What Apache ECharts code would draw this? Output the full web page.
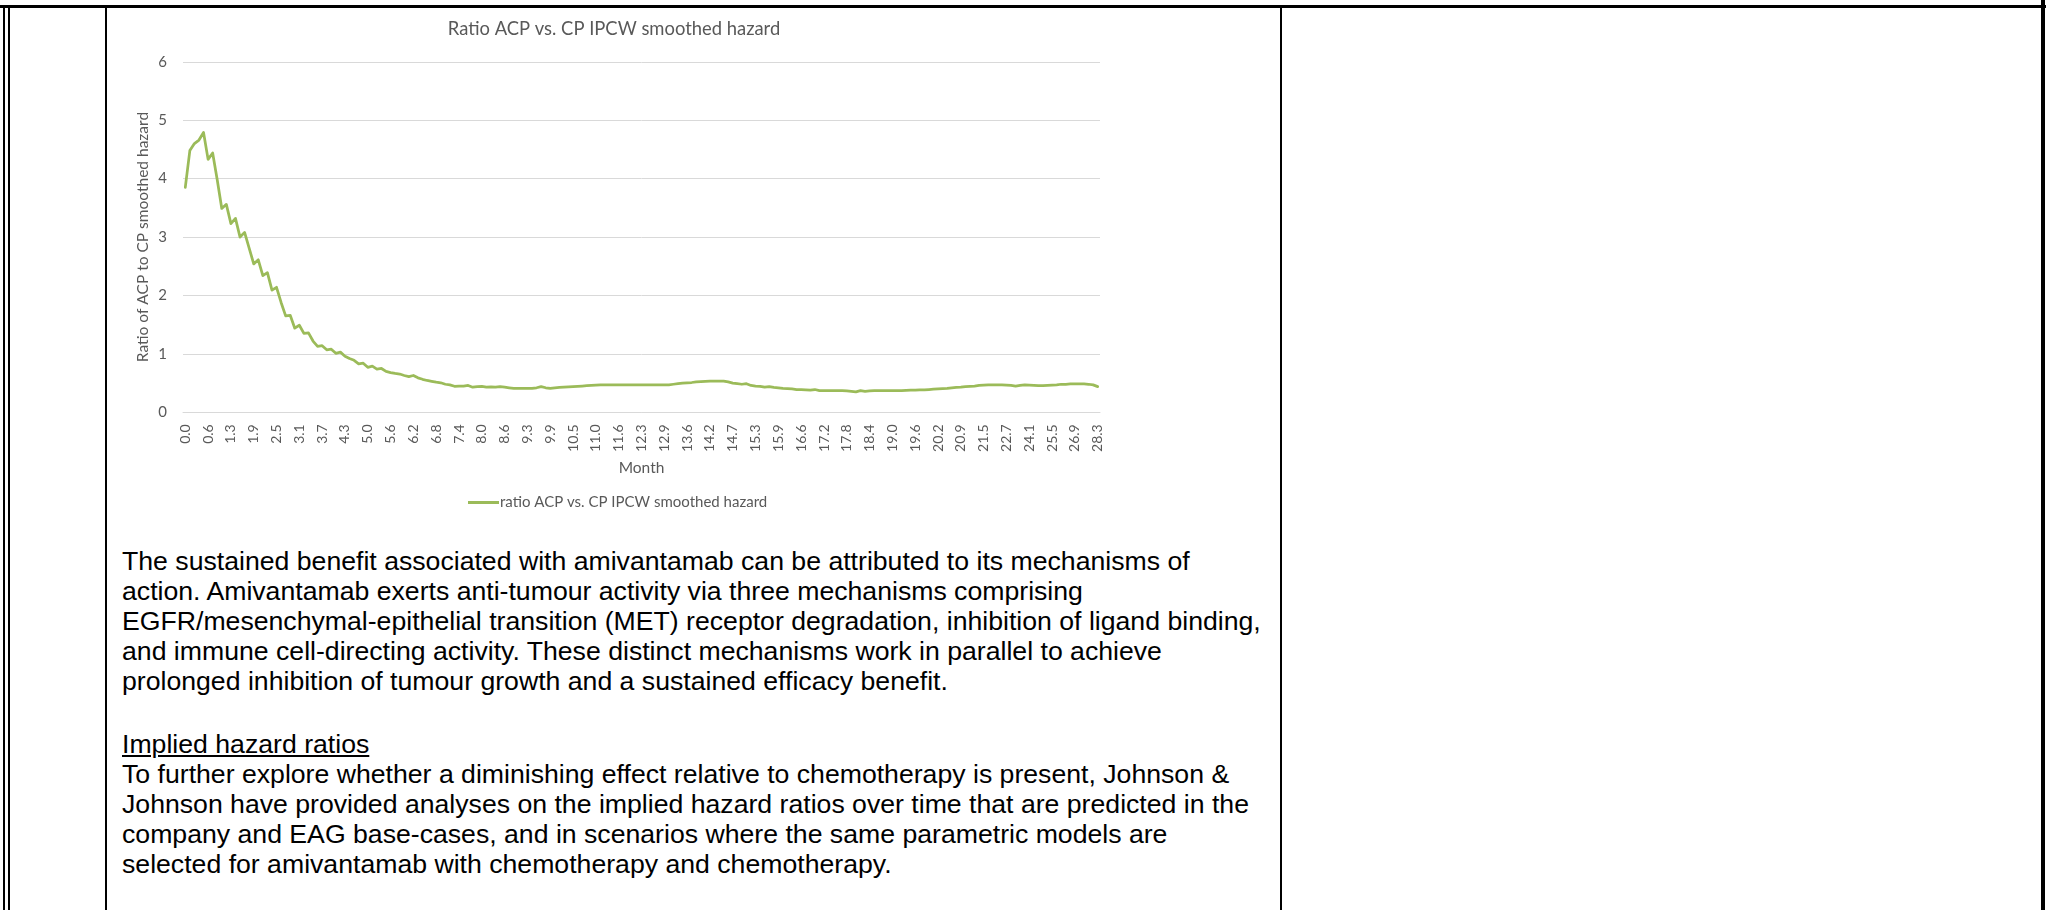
<!DOCTYPE html>
<html>
<head>
<meta charset="utf-8">
<title>Ratio ACP vs. CP IPCW smoothed hazard</title>
<script src="https://cdn.jsdelivr.net/npm/echarts@6/dist/echarts.min.js"></script>
<style>
  html, body { margin: 0; padding: 0; background: #fff; }
  body { width: 2049px; height: 910px; position: relative; overflow: hidden; }
  .rule { position: absolute; background: #000; }
  #chart { position: absolute; left: 0; top: 0; width: 1200px; height: 520px; z-index: 2; }
  .para { position: absolute; left: 122px; white-space: nowrap; font-family: "Liberation Sans", Arial, sans-serif;
          font-size: 26.65px; line-height: 30px; color: #000; }
  .head { text-decoration: underline; text-underline-offset: 2px; }
</style>
</head>
<body>
<!-- table borders -->
<div class="rule" style="left:0; top:5px; width:2046px; height:3px;"></div>
<div class="rule" style="left:3px; top:5px; width:2px; height:905px;"></div>
<div class="rule" style="left:8px; top:5px; width:2px; height:905px;"></div>
<div class="rule" style="left:105px; top:5px; width:2px; height:905px;"></div>
<div class="rule" style="left:1280px; top:5px; width:2px; height:905px;"></div>
<div class="rule" style="left:2041px; top:0; width:4px; height:910px;"></div>

<div id="chart"></div>

<div class="para" style="top:546px;">The sustained benefit associated with amivantamab can be attributed to its mechanisms of</div>
<div class="para" style="top:576px;">action. Amivantamab exerts anti-tumour activity via three mechanisms comprising</div>
<div class="para" style="top:606px;">EGFR/mesenchymal-epithelial transition (MET) receptor degradation, inhibition of ligand binding,</div>
<div class="para" style="top:636px;">and immune cell-directing activity. These distinct mechanisms work in parallel to achieve</div>
<div class="para" style="top:666px;">prolonged inhibition of tumour growth and a sustained efficacy benefit.</div>
<div class="para head" style="top:729px;">Implied hazard ratios</div>
<div class="para" style="top:759px;">To further explore whether a diminishing effect relative to chemotherapy is present, Johnson &amp;</div>
<div class="para" style="top:789px;">Johnson have provided analyses on the implied hazard ratios over time that are predicted in the</div>
<div class="para" style="top:819px;">company and EAG base-cases, and in scenarios where the same parametric models are</div>
<div class="para" style="top:849px;">selected for amivantamab with chemotherapy and chemotherapy.</div>

<script>
// Month labels shown on the axis (one for every fifth observation)
const monthTicks = [
  '0.0','0.6','1.3','1.9','2.5','3.1','3.7','4.3','5.0','5.6',
  '6.2','6.8','7.4','8.0','8.6','9.3','9.9','10.5','11.0','11.6',
  '12.3','12.9','13.6','14.2','14.7','15.3','15.9','16.6','17.2','17.8',
  '18.4','19.0','19.6','20.2','20.9','21.5','22.7','24.1','25.5','26.9','28.3'
];
const tickStep = 5;

// Ratio of ACP to CP IPCW smoothed hazard, one value per observation
const hazardRatio = [
  3.85, 4.48, 4.60, 4.66, 4.79, 4.33, 4.44, 3.98, 3.49, 3.56,
  3.23, 3.32, 3.00, 3.08, 2.81, 2.54, 2.61, 2.34, 2.39, 2.09,
  2.14, 1.88, 1.65, 1.66, 1.44, 1.49, 1.35, 1.36, 1.22, 1.13,
  1.14, 1.07, 1.08, 1.01, 1.03, 0.96, 0.92, 0.89, 0.83, 0.84,
  0.77, 0.79, 0.74, 0.75, 0.70, 0.68, 0.665, 0.655, 0.63, 0.61,
  0.63, 0.59, 0.565, 0.545, 0.53, 0.515, 0.505, 0.48, 0.47, 0.445,
  0.45, 0.45, 0.46, 0.43, 0.44, 0.445, 0.43, 0.435, 0.43, 0.44,
  0.43, 0.42, 0.41, 0.41, 0.41, 0.41, 0.41, 0.42, 0.44, 0.42,
  0.41, 0.42, 0.425, 0.43, 0.435, 0.44, 0.445, 0.45, 0.455, 0.46,
  0.465, 0.47, 0.47, 0.47, 0.47, 0.47, 0.47, 0.47, 0.47, 0.47,
  0.47, 0.47, 0.47, 0.47, 0.47, 0.47, 0.47, 0.48, 0.49, 0.50,
  0.505, 0.51, 0.52, 0.525, 0.53, 0.535, 0.535, 0.535, 0.535, 0.52,
  0.50, 0.49, 0.48, 0.49, 0.46, 0.45, 0.445, 0.43, 0.44, 0.425,
  0.42, 0.41, 0.405, 0.40, 0.39, 0.39, 0.385, 0.38, 0.39, 0.37,
  0.37, 0.37, 0.37, 0.37, 0.37, 0.365, 0.36, 0.35, 0.37, 0.36,
  0.365, 0.37, 0.37, 0.37, 0.37, 0.37, 0.37, 0.37, 0.375, 0.38,
  0.38, 0.385, 0.385, 0.39, 0.395, 0.40, 0.405, 0.41, 0.42, 0.425,
  0.43, 0.44, 0.445, 0.45, 0.46, 0.465, 0.47, 0.47, 0.47, 0.47,
  0.465, 0.46, 0.45, 0.46, 0.47, 0.465, 0.46, 0.455, 0.455, 0.46,
  0.465, 0.47, 0.48, 0.48, 0.485, 0.485, 0.485, 0.485, 0.48, 0.47,
  0.44
];

const seriesName = 'ratio ACP vs. CP IPCW smoothed hazard';
const chartTitle = 'Ratio ACP vs. CP IPCW smoothed hazard';
const yAxisTitle = 'Ratio of ACP to CP smoothed hazard';
const xAxisTitle = 'Month';

// category per observation: labelled every fifth point, blank in between
const categories = hazardRatio.map((_, i) => (i % tickStep === 0 ? monthTicks[i / tickStep] : ''));

const textGrey = '#595959';
const gridGrey = '#d9d9d9';
const uiFont = 'Lato, "Open Sans", sans-serif';

const chart = echarts.init(document.getElementById('chart'), null, { renderer: 'canvas' });
chart.setOption({
  animation: false,
  backgroundColor: 'transparent',
  title: {
    text: chartTitle,
    left: 609,
    top: 15,
    textAlign: 'center',
    textStyle: { fontFamily: uiFont, fontSize: 18.4, fontWeight: 'normal', color: textGrey }
  },
  legend: {
    data: [seriesName],
    left: 463,
    top: 490,
    icon: 'rect',
    itemWidth: 31,
    itemHeight: 3,
    textStyle: { fontFamily: uiFont, fontSize: 15, color: textGrey, padding: [0, 0, 0, -4] }
  },
  grid: { left: 183, top: 61.8, width: 917, height: 350.5, containLabel: false },
  xAxis: {
    type: 'category',
    data: categories,
    boundaryGap: true,
    name: xAxisTitle,
    nameLocation: 'middle',
    nameGap: 47,
    nameTextStyle: { fontFamily: uiFont, fontSize: 15.5, color: textGrey },
    axisLine: { lineStyle: { color: gridGrey, width: 1 } },
    axisTick: { show: false },
    axisLabel: {
      interval: tickStep - 1,
      rotate: 90,
      margin: 12,
      fontFamily: uiFont,
      fontSize: 14,
      color: textGrey
    },
    splitLine: { show: false }
  },
  yAxis: {
    type: 'value',
    min: 0,
    max: 6,
    interval: 1,
    name: yAxisTitle,
    nameLocation: 'middle',
    nameRotate: 90,
    nameGap: 32,
    nameMoveOverlap: false,
    nameTextStyle: { fontFamily: uiFont, fontSize: 15.5, color: textGrey },
    axisLine: { show: false },
    axisTick: { show: false },
    axisLabel: { margin: 16, fontFamily: uiFont, fontSize: 15, color: textGrey },
    splitLine: { lineStyle: { color: gridGrey, width: 1 } }
  },
  series: [{
    name: seriesName,
    type: 'line',
    data: hazardRatio,
    symbol: 'none',
    smooth: false,
    color: '#9bbb59',
    lineStyle: { color: '#9bbb59', width: 2.75, cap: 'round', join: 'round' }
  }]
});
</script>
</body>
</html>
